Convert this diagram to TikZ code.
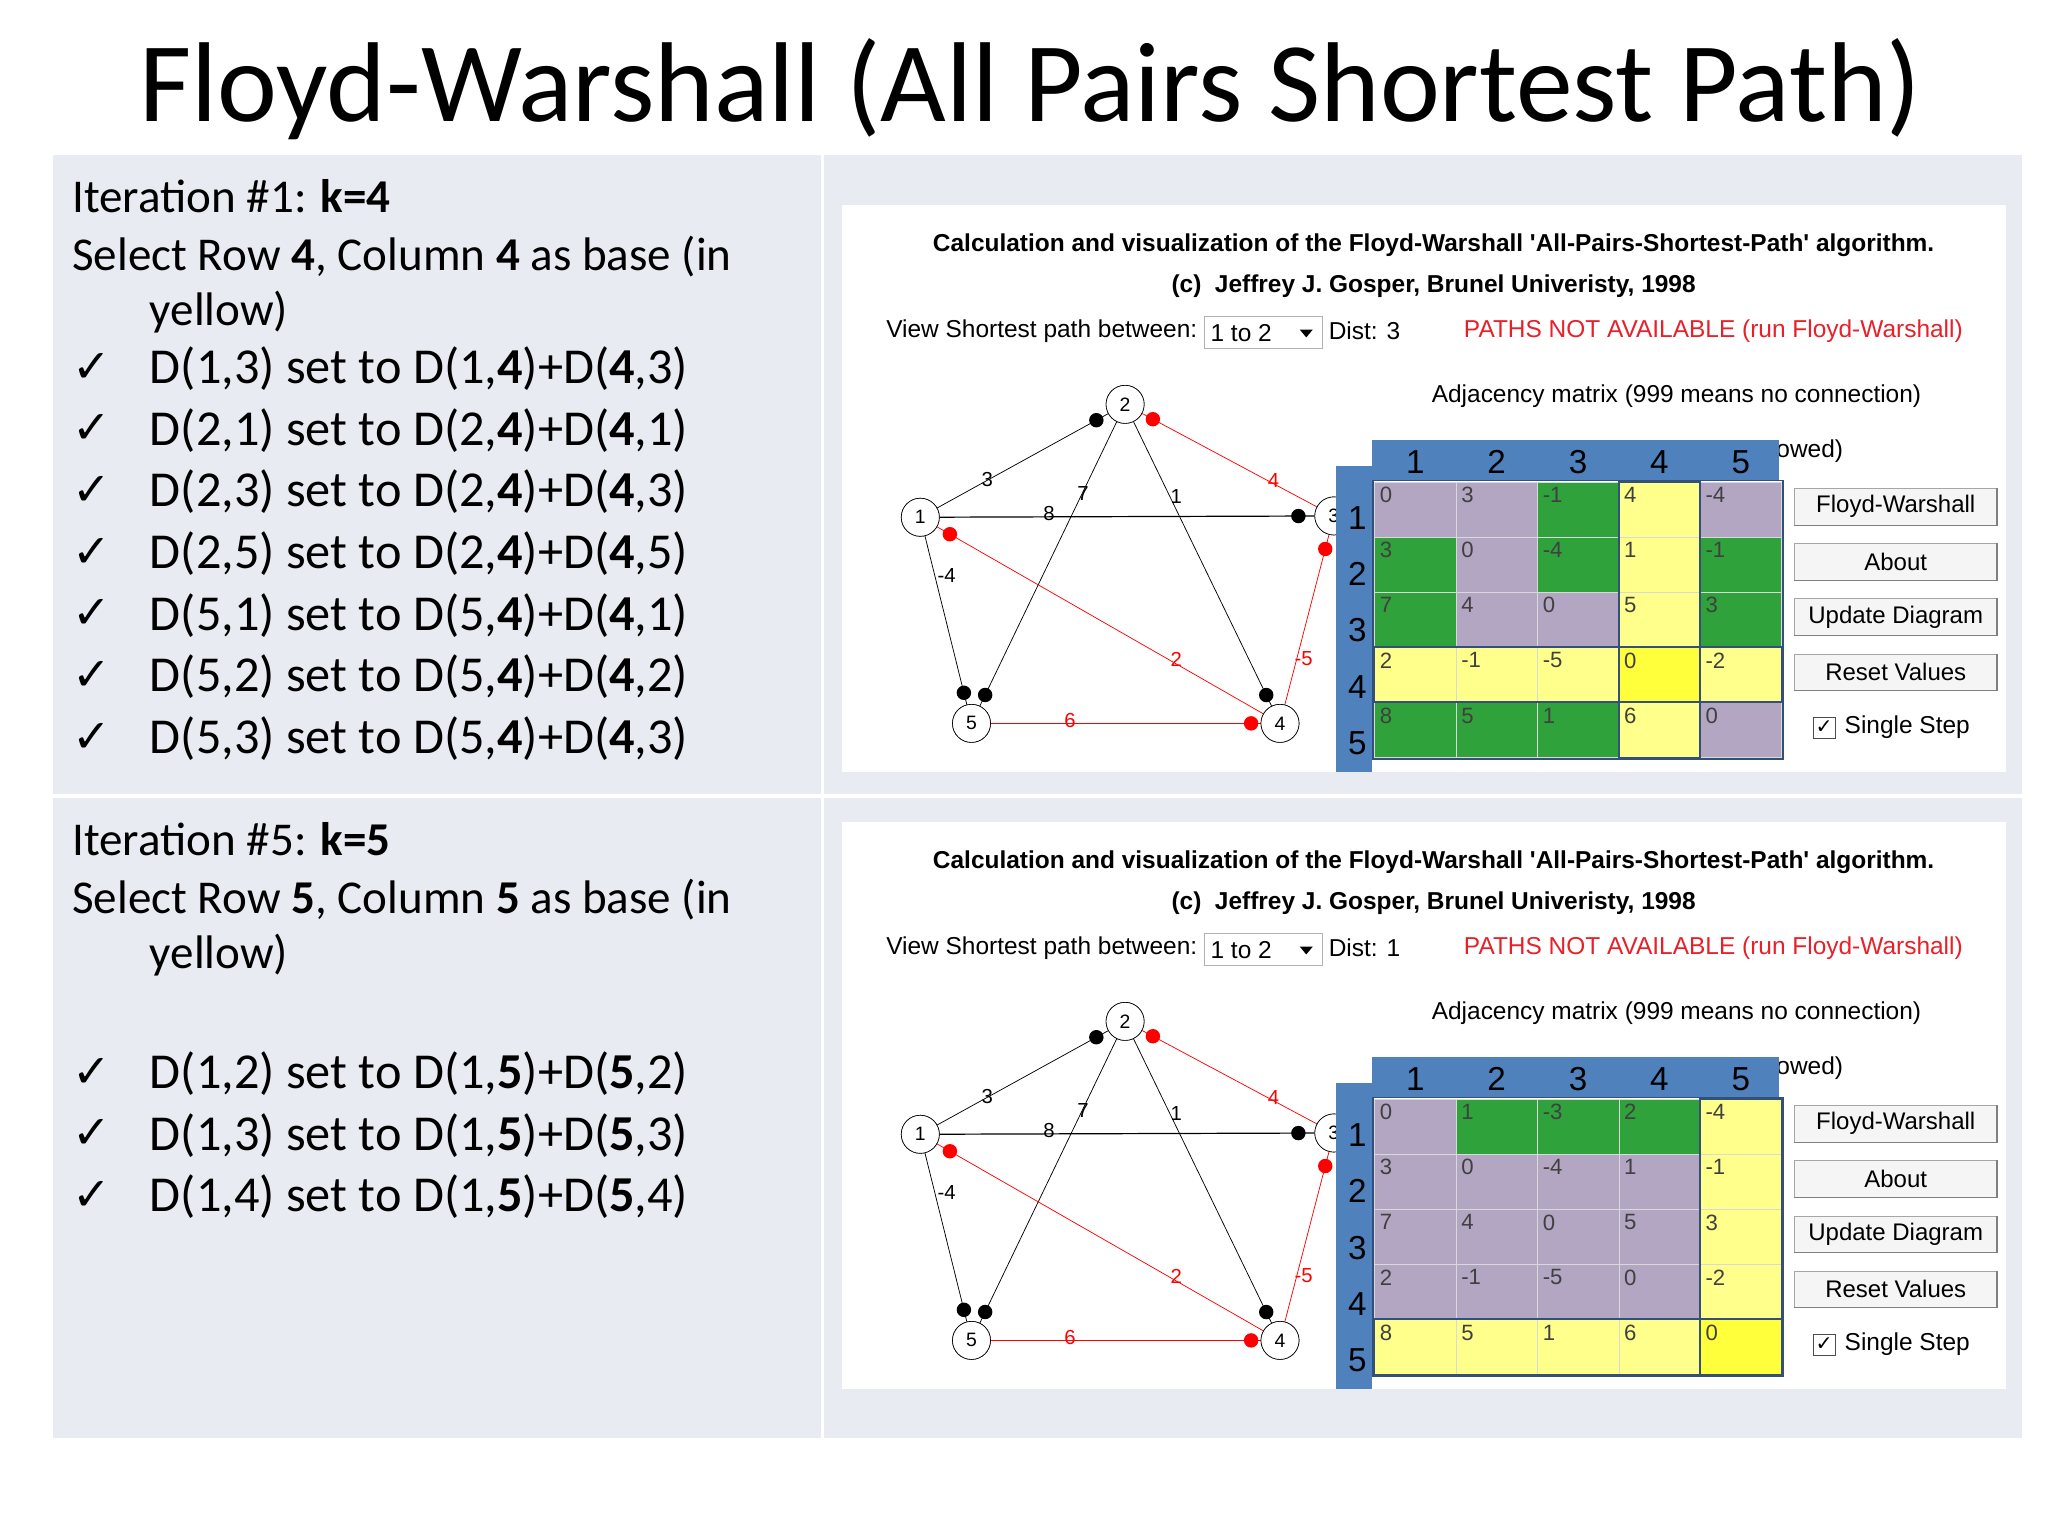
\documentclass[tikz,border=0pt]{standalone}
\usepackage{fontspec}
\setmainfont{Carlito}
\newfontfamily\arf{Liberation Sans}
\newfontfamily\djf{DejaVu Sans}
\usetikzlibrary{calc}
\definecolor{panel}{HTML}{E9EBF2}
\definecolor{cP}{HTML}{B2A6C2}
\definecolor{cG}{HTML}{2FA23C}
\definecolor{cY}{HTML}{FFFF8C}
\definecolor{cB}{HTML}{FFFF3C}
\definecolor{hdr}{HTML}{4F81BD}
\definecolor{brd}{HTML}{34507A}
\definecolor{txtr}{HTML}{E8202A}
\tikzset{
 lt/.style={anchor=base west,inner sep=0,font=\fontsize{51}{60}\selectfont},
 dl/.style={anchor=base west,inner sep=0,font=\fontsize{54.5}{60}\selectfont},
 ck/.style={anchor=base west,inner sep=0,font=\djf\fontsize{50}{56}\selectfont},
 st/.style={inner sep=0,font=\arf\fontsize{26.5}{30}\selectfont},
 gn/.style={circle,draw,fill=white,minimum size=14.5mm,inner sep=0,line width=0.7pt,font=\arf\fontsize{21}{24}\selectfont},
 el/.style={inner sep=0,font=\arf\fontsize{22}{24}\selectfont},
 bd/.style={circle,fill=black,minimum size=5.5mm,inner sep=0},
 rd/.style={circle,fill=red,minimum size=5.5mm,inner sep=0},
 btn/.style={draw=gray!70,fill=gray!8,minimum width=77mm,minimum height=14mm,inner sep=0,font=\arf\fontsize{26}{30}\selectfont},
 cv/.style={anchor=north west,inner sep=0,font=\arf\fontsize{24}{28}\selectfont,text=black!75},
 hl/.style={anchor=base,inner sep=0,font=\arf\fontsize{36}{40}\selectfont},
}
\newcommand\shot[5]{%
\begin{scope}[shift={(0,#2)}]
 \fill[white] (641,156) rectangle (1528,588);
 \node[st] (t1#1) at (1092,187) {\textbf{Calculation and visualization of the Floyd-Warshall 'All-Pairs-Shortest-Path' algorithm.}};
 \node[st] (t2#1) at (1092,218) {\textbf{(c)\ \ Jeffrey J. Gosper, Brunel Univeristy, 1998}};
 \node[st,anchor=west] (vs#1) at (675,252) {View Shortest path between:};
 \draw[gray!60,fill=white] (917,241) rectangle (1007,265);
 \node[st,anchor=west] (cb#1) at (922,254) {1 to 2};
 \fill (990,251) -- (1000,251) -- (995,257) -- cycle;
 \node[st,anchor=west] (ds#1) at (1012,252) {Dist: #3};
 \node[st,anchor=west,text=txtr] (pn#1) at (1115,252) {PATHS NOT AVAILABLE (run Floyd-Warshall)};
 \node[st] (am#1) at (1277,302) {Adjacency matrix (999 means no connection)};
 \node[st,anchor=west] (ow#1) at (1353,344) {owed)};
 % graph
 \node[gn] (a#1) at (701,394) {1};
 \node[gn] (b#1) at (857,308) {2};
 \node[gn] (c#1) at (1016,393) {3};
 \node[gn] (d#1) at (975,551) {4};
 \node[gn] (e#1) at (740,551) {5};
 \draw[line width=0.8pt] (a#1) -- (b#1);
 \draw[line width=1.3pt] (a#1) -- (c#1);
 \draw[line width=0.8pt] (b#1) -- (d#1);
 \draw[line width=0.8pt] (b#1) -- (e#1);
 \draw[line width=0.8pt] (a#1) -- (e#1);
 \draw[red,line width=0.8pt] (b#1) -- (c#1);
 \draw[red,line width=0.8pt] (a#1) -- (d#1);
 \draw[red,line width=0.8pt] (c#1) -- (d#1);
 \draw[red,line width=0.8pt] (e#1) -- (d#1);
 \node[gn] at (a#1) {1}; \node[gn] at (b#1) {2}; \node[gn] at (c#1) {3};
 \node[gn] at (d#1) {4}; \node[gn] at (e#1) {5};
 \node[bd] at ($(b#1)!12.5mm!(a#1)$) {};
 \node[bd] at ($(c#1)!13.5mm!(a#1)$) {};
 \node[bd] at ($(d#1)!12mm!(b#1)$) {};
 \node[bd] at ($(e#1)!12mm!(b#1)$) {};
 \node[bd] at ($(e#1)!12mm!(a#1)$) {};
 \node[rd] at ($(b#1)!12mm!(c#1)$) {};
 \node[rd] at ($(a#1)!13mm!(d#1)$) {};
 \node[rd] at ($(c#1)!13mm!(d#1)$) {};
 \node[rd] at ($(d#1)!11mm!(e#1)$) {};
 \node[el] at (752,365) {3};
 \node[el] at (799,391) {8};
 \node[el] at (825,376) {7};
 \node[el] at (896,378) {1};
 \node[el,text=red] at (970,366) {4};
 \node[el] at (721,438) {-4};
 \node[el,text=red] at (896,502) {2};
 \node[el,text=red] at (993,502) {-5};
 \node[el,text=red] at (815,549) {6};
 % matrix
 \fill[hdr] (1045,335) rectangle (1355,366);
 \fill[hdr] (1018,355) rectangle (1045,588);
 \foreach \cl [count=\k] in {1,...,5} {\node[hl] at (1016+62*\k,361) {\cl};}
 \foreach \cl [count=\k] in {1,...,5} {\node[hl] at (1034,360+43*\k) {\cl};}
 \foreach \row [count=\r] in {#4} {
   \foreach \cc/\vv [count=\k] in \row {
     \fill[c\cc,draw=white!85!black,line width=0.4pt] (985+62*\k,325+42*\r) rectangle ++(62,42);
     \node[cv] at (989+62*\k,329+42*\r) {\vv};
   }
 }
 #5
 \draw[brd,line width=1.6pt] (1046,366) rectangle (1358,578);
 \node[btn] (f#1) at (1444,386) {Floyd-Warshall};
 \node[btn] (ab#1) at (1444,428) {About};
 \node[btn] (ud#1) at (1444,470) {Update Diagram};
 \node[btn] (rv#1) at (1444,512) {Reset Values};
 \foreach \n in {f#1,ab#1,ud#1,rv#1} {\draw[gray,line width=1.2pt] (\n.south west) -- (\n.south east) -- (\n.north east);}
 \draw[gray!60!black,fill=white] (1381,546) rectangle (1398,562);
 \node[inner sep=0,font=\djf\fontsize{22}{24}\selectfont] at (1389.5,554) {✓};
 \node[st,anchor=west] (ss#1) at (1405,554) {Single Step};
\end{scope}}
\begin{document}
\begin{tikzpicture}[x=0.5mm,y=-0.5mm]
\useasboundingbox (0,0) rectangle (1560,1170);
\fill[white] (0,0) rectangle (1560,1170);
\fill[panel] (40,118) rectangle (625,605);
\fill[panel] (628,118) rectangle (1540,605);
\fill[panel] (40,608) rectangle (625,1095);
\fill[panel] (628,608) rectangle (1540,1095);
\node[inner sep=0,font=\fontsize{123}{130}\selectfont] (title) at (785,68) {Floyd-Warshall (All Pairs Shortest Path)};
% left text top
\node[lt] (i1) at (55,162) {Iteration \#1: \textbf{k=4}};
\node[lt] (s1) at (55,206) {Select Row \textbf{4}, Column \textbf{4} as base (in};
\node[lt] (y1) at (114,248) {yellow)};
\foreach \t [count=\i] in {{D(1,3) set to D(1,\textbf{4})+D(\textbf{4},3)},
 {D(2,1) set to D(2,\textbf{4})+D(\textbf{4},1)},
 {D(2,3) set to D(2,\textbf{4})+D(\textbf{4},3)},
 {D(2,5) set to D(2,\textbf{4})+D(\textbf{4},5)},
 {D(5,1) set to D(5,\textbf{4})+D(\textbf{4},1)},
 {D(5,2) set to D(5,\textbf{4})+D(\textbf{4},2)},
 {D(5,3) set to D(5,\textbf{4})+D(\textbf{4},3)}} {
 \node[ck] (ca\i) at (55,244+47*\i) {✓};
 \node[dl] (la\i) at (114,245+47*\i) {\t};
}
\node[lt] (i5) at (55,652) {Iteration \#5: \textbf{k=5}};
\node[lt] (s5) at (55,696) {Select Row \textbf{5}, Column \textbf{5} as base (in};
\node[lt] (y5) at (114,738) {yellow)};
\foreach \t [count=\i] in {{D(1,2) set to D(1,\textbf{5})+D(\textbf{5},2)},
 {D(1,3) set to D(1,\textbf{5})+D(\textbf{5},3)},
 {D(1,4) set to D(1,\textbf{5})+D(\textbf{5},4)}} {
 \node[ck] (cb\i) at (55,781+47*\i) {✓};
 \node[dl] (lb\i) at (114,782+47*\i) {\t};
}
\shot{A}{0}{3}{{P/0,P/3,G/-1,Y/4,P/-4},{G/3,P/0,G/-4,Y/1,G/-1},{G/7,P/4,P/0,Y/5,G/3},{Y/2,Y/-1,Y/-5,B/0,Y/-2},{G/8,G/5,G/1,Y/6,P/0}}
{\draw[brd,line width=2pt] (1047,493) rectangle (1357,535); \draw[brd,line width=2pt] (1233,367) rectangle (1295,577);}
\shot{B}{470}{1}{{P/0,G/1,G/-3,G/2,Y/-4},{P/3,P/0,P/-4,P/1,Y/-1},{P/7,P/4,P/0,P/5,Y/3},{P/2,P/-1,P/-5,P/0,Y/-2},{Y/8,Y/5,Y/1,Y/6,B/0}}
{\draw[brd,line width=2pt] (1047,535) rectangle (1357,577); \draw[brd,line width=2pt] (1295,367) rectangle (1357,577);}
\end{tikzpicture}
\end{document}
